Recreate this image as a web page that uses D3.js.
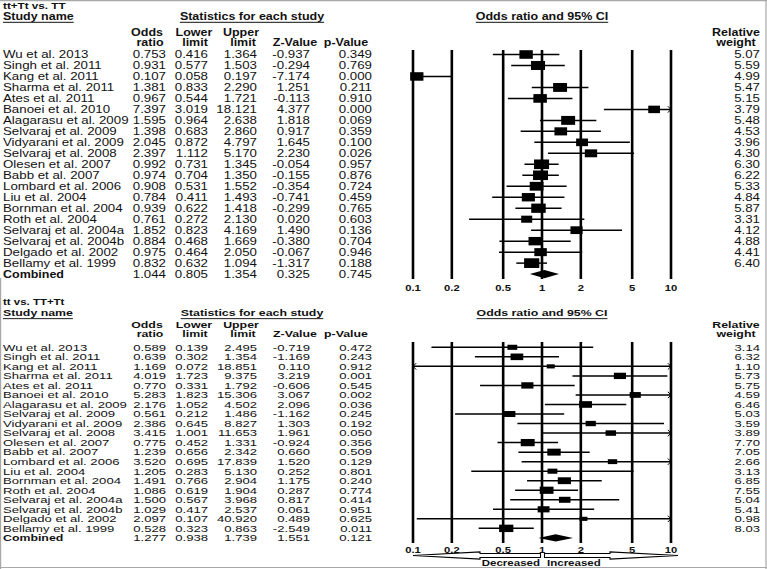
<!DOCTYPE html>
<html><head><meta charset="utf-8">
<script src="https://cdn.jsdelivr.net/npm/d3@7"></script>
<style>html,body{margin:0;padding:0;background:#fff;}svg{display:block;}</style>
</head><body>
<script>
// ---------- data ----------
const studyNames = ["Wu et al. 2013","Singh et al. 2011","Kang et al. 2011","Sharma et al. 2011","Ates et al. 2011","Banoei et al. 2010","Alagarasu et al. 2009","Selvaraj et al. 2009","Vidyarani et al. 2009","Selvaraj et al. 2008","Olesen et al. 2007","Babb et al. 2007","Lombard et al. 2006","Liu et al. 2004","Bornman et al. 2004","Roth et al. 2004","Selvaraj et al. 2004a","Selvaraj et al. 2004b","Delgado et al. 2002","Bellamy et al. 1999"];
const combinedLabel = "Combined";

// Panel A: tt+Tt vs. TT
const titleA = "tt+Tt vs. TT";
const orA  = ["0.753","0.931","0.107","1.381","0.967","7.397","1.595","1.398","2.045","2.397","0.992","0.974","0.908","0.784","0.939","0.761","1.852","0.884","0.975","0.832"];
const lowA = ["0.416","0.577","0.058","0.833","0.544","3.019","0.964","0.683","0.872","1.112","0.731","0.704","0.531","0.411","0.622","0.272","0.823","0.468","0.464","0.632"];
const upA  = ["1.364","1.503","0.197","2.290","1.721","18.121","2.638","2.860","4.797","5.170","1.345","1.350","1.552","1.493","1.418","2.130","4.169","1.669","2.050","1.094"];
const zA   = ["-0.937","-0.294","-7.174","1.251","-0.113","4.377","1.818","0.917","1.645","2.230","-0.054","-0.155","-0.354","-0.741","-0.299","0.020","1.490","-0.380","-0.067","-1.317"];
const pA   = ["0.349","0.769","0.000","0.211","0.910","0.000","0.069","0.359","0.100","0.026","0.957","0.876","0.724","0.459","0.765","0.603","0.136","0.704","0.946","0.188"];
const wA   = ["5.07","5.59","4.99","5.47","5.15","3.79","5.48","4.53","3.96","4.30","6.30","6.22","5.33","4.84","5.87","3.31","4.12","4.88","4.41","6.40"];
const combA = ["1.044","0.805","1.354","0.325","0.745"];

// Panel B: tt vs. TT+Tt
const titleB = "tt vs. TT+Tt";
const orB  = ["0.589","0.639","1.169","4.019","0.770","5.283","2.176","0.561","2.386","3.415","0.775","1.239","3.520","1.205","1.491","1.086","1.500","1.029","2.097","0.528"];
const lowB = ["0.139","0.302","0.072","1.723","0.331","1.823","1.052","0.212","0.645","1.001","0.452","0.656","0.695","0.283","0.766","0.619","0.567","0.417","0.107","0.323"];
const upB  = ["2.495","1.354","18.851","9.375","1.792","15.306","4.502","1.486","8.827","11.653","1.331","2.342","17.839","5.130","2.904","1.904","3.968","2.537","40.920","0.863"];
const zB   = ["-0.719","-1.169","0.110","3.219","-0.606","3.067","2.096","-1.162","1.303","1.961","-0.924","0.660","1.520","0.252","1.175","0.287","0.817","0.061","0.489","-2.549"];
const pB   = ["0.472","0.243","0.912","0.001","0.545","0.002","0.036","0.245","0.192","0.050","0.356","0.509","0.129","0.801","0.240","0.774","0.414","0.951","0.625","0.011"];
const wB   = ["3.14","6.32","1.10","5.73","5.75","4.59","6.46","5.03","3.59","3.89","7.70","7.05","2.66","3.13","6.85","7.55","5.04","5.41","0.98","8.03"];
const combB = ["1.277","0.938","1.739","1.551","0.121"];

const tickValues = [0.1, 0.2, 0.5, 1, 2, 5, 10];
const tickLabels = ["0.1","0.2","0.5","1","2","5","10"];
const headTop = ["Odds","Lower","Upper","",""];
const headBot = ["ratio","limit","limit","Z-Value","p-Value"];
const studyHeader = "Study name";
const statsHeader = "Statistics for each study";
const plotHeader = "Odds ratio and 95% CI";
const weightHeader = ["Relative","weight"];
const dirLabels = ["Decreased","Increased"];

// ---------- drawing ----------
const W = 767, H = 569;
const svg = d3.select("body").append("svg").attr("width", W).attr("height", H)
  .style("font-family", "'Liberation Sans', Arial, Helvetica, sans-serif");

const x = d3.scaleLog().domain([0.1, 10]).range([413, 671]);

function txt(g, s, px, py, o = {}) {
  const t = g.append("text")
    .attr("transform", `translate(${px},${py}) scale(${o.sx || 1.3},1)`)
    .attr("text-anchor", o.anchor || "start")
    .attr("dominant-baseline", "central")
    .attr("font-size", o.size || 10)
    .attr("font-weight", o.weight || "normal")
    .attr("fill", o.fill || "#111")
    .text(s);
  if (o.underline) t.attr("text-decoration", "underline");
  return t;
}

function panel(cfg) {
  const g = svg.append("g");
  const fs = cfg.fs, sx = cfg.sx, bsx = cfg.bsx;
  // headers
  txt(g, cfg.title, 3, cfg.yTitle, {size: fs - 1, weight: "bold", sx: bsx + 0.05});
  txt(g, studyHeader, 3, cfg.yHead, {size: fs, weight: "bold", sx: bsx, underline: true});
  txt(g, statsHeader, 252, cfg.yHead, {size: fs, weight: "bold", sx: bsx, underline: true, anchor: "middle"});
  txt(g, plotHeader, x(1), cfg.yHead, {size: fs, weight: "bold", sx: bsx, underline: true, anchor: "middle"});
  const hx1 = [147, 194, 241, 295, 346];
  const hx2 = [150, 195, 243, 295, 346];
  headTop.forEach((h, i) => { if (h) txt(g, h, hx1[i], cfg.yH1, {size: fs, weight: "bold", sx: bsx, anchor: "middle"}); });
  headBot.forEach((h, i) => txt(g, h, hx2[i], cfg.yH2, {size: fs, weight: "bold", sx: bsx, anchor: "middle"}));
  txt(g, weightHeader[0], 736, cfg.yH1, {size: fs, weight: "bold", sx: bsx, anchor: "middle"});
  txt(g, weightHeader[1], 736, cfg.yH2, {size: fs, weight: "bold", sx: bsx, anchor: "middle"});

  const y = d3.scaleLinear().domain([0, 20]).range([cfg.y0, cfg.y0 + 20 * cfg.step]);
  const colX = [166, 208, 257, 310, 372];

  // vertical reference lines
  g.selectAll("line.v").data(tickValues).join("line")
    .attr("x1", d => x(d)).attr("x2", d => x(d))
    .attr("y1", cfg.lineTop).attr("y2", cfg.lineBot)
    .attr("stroke", "#000").attr("stroke-width", 2.6);
  tickValues.forEach((t, i) => txt(g, tickLabels[i], x(t), cfg.tickY, {size: 9, weight: "bold", sx: 1.25, anchor: "middle"}));

  // rows
  studyNames.forEach((nm, i) => {
    const yy = y(i);
    txt(g, nm, 3, yy, {size: fs, sx});
    [cfg.or, cfg.low, cfg.up, cfg.z, cfg.p].forEach((arr, j) => txt(g, arr[i], colX[j], yy, {size: fs, sx, anchor: "end"}));
    txt(g, cfg.w[i], 760, yy, {size: fs, sx, anchor: "end"});

    const lo = +cfg.low[i], hi = +cfg.up[i], est = +cfg.or[i];
    const xl = x(Math.max(lo, 0.1)), xh = x(Math.min(hi, 10));
    g.append("line").attr("x1", xl).attr("x2", xh).attr("y1", yy).attr("y2", yy)
      .attr("stroke", "#000").attr("stroke-width", 1.5);
    const ah = 3.2;
    if (hi > 10) {
      g.append("path").attr("d", `M${xh - ah},${yy - ah}L${xh},${yy}L${xh - ah},${yy + ah}`)
        .attr("fill", "none").attr("stroke", "#000").attr("stroke-width", 1);
    }
    if (lo < 0.1) {
      g.append("path").attr("d", `M${xl + ah},${yy - ah}L${xl},${yy}L${xl + ah},${yy + ah}`)
        .attr("fill", "none").attr("stroke", "#000").attr("stroke-width", 1);
    }
    const sw = cfg.size(+cfg.w[i]), sh = sw * cfg.hr;
    g.append("rect").attr("x", x(est) - sw / 2).attr("y", yy - sh / 2)
      .attr("width", sw).attr("height", sh).attr("fill", "#000");
  });

  // combined
  const yc = y(20);
  txt(g, combinedLabel, 3, yc, {size: fs, sx: bsx, weight: "bold"});
  cfg.comb.forEach((v, j) => txt(g, v, colX[j], yc, {size: fs, sx, anchor: "end"}));
  const [ce, cl, cu] = cfg.comb.map(Number);
  g.append("path")
    .attr("d", `M${x(cl)},${yc}L${x(ce)},${yc - cfg.dh}L${x(cu)},${yc}L${x(ce)},${yc + cfg.dh}Z`)
    .attr("fill", "#000");
  return g;
}

panel({
  title: titleA, yTitle: 5.5, yHead: 16.5, yH1: 32, yH2: 42,
  y0: 54.5, step: 10.98, lineTop: 50, lineBot: 279, tickY: 288,
  or: orA, low: lowA, up: upA, z: zA, p: pA, w: wA, comb: combA,
  fs: 10, sx: 1.33, bsx: 1.25,
  size: d3.scaleLinear().domain([0, 10]).range([6.6, 20]), hr: 0.64, dh: 4.2
});

const gB = panel({
  title: titleB, yTitle: 302.5, yHead: 313, yH1: 325, yH2: 334,
  y0: 347.3, step: 9.53, lineTop: 342, lineBot: 543, tickY: 549.5,
  or: orB, low: lowB, up: upB, z: zB, p: pB, w: wB, comb: combB,
  fs: 9.5, sx: 1.38, bsx: 1.3,
  size: d3.scaleLinear().domain([0, 10]).range([7, 16]), hr: 0.52, dh: 3.6
});

// Decreased / Increased arrows
const ay = 555.5;
const x1 = x(1);
gB.append("path")
  .attr("d", `M${x(0.1)},${ay}L${x1 - 62},${ay - 3.6}L${x1 - 62},${ay - 2}L${x1 - 1.5},${ay - 2}L${x1 - 1.5},${ay + 2}L${x1 - 62},${ay + 2}L${x1 - 62},${ay + 3.6}Z`)
  .attr("fill", "#fff").attr("stroke", "#000").attr("stroke-width", 1.1);
gB.append("path")
  .attr("d", `M${x1 + 2.5},${ay - 2}L${x1 + 68},${ay - 2}L${x1 + 68},${ay - 3.6}L${x1 + 136},${ay}L${x1 + 68},${ay + 3.6}L${x1 + 68},${ay + 2}L${x1 + 2.5},${ay + 2}Z`)
  .attr("fill", "#fff").attr("stroke", "#000").attr("stroke-width", 1.1);
txt(gB, dirLabels[0], x1 - 2, 562.5, {size: 9, weight: "bold", sx: 1.28, anchor: "end"});
txt(gB, dirLabels[1], x1 + 5, 562.5, {size: 9, weight: "bold", sx: 1.28, anchor: "start"});

// frame
const fr = svg.append("g").attr("stroke", "#a8a8a8").attr("stroke-width", 1.2);
fr.append("line").attr("x1", 0).attr("x2", W).attr("y1", 0.6).attr("y2", 0.6);
fr.append("line").attr("x1", W - 1).attr("x2", W - 1).attr("y1", 0).attr("y2", H);
fr.append("line").attr("x1", 0).attr("x2", W).attr("y1", H - 1.5).attr("y2", H - 1.5);
fr.append("line").attr("x1", 0.6).attr("x2", 0.6).attr("y1", 278).attr("y2", H);
</script>
</body></html>
